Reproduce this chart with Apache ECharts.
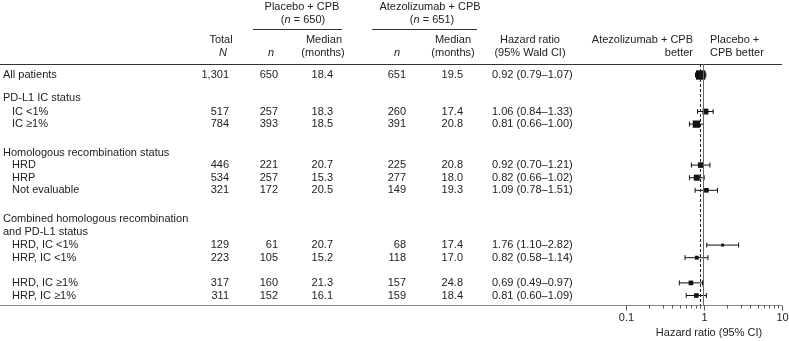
<!DOCTYPE html>
<html>
<head>
<meta charset="utf-8">
<script src="https://cdn.jsdelivr.net/npm/echarts@6/dist/echarts.min.js"></script>
<style>
  html, body { margin: 0; padding: 0; background: #fff; }
  #chart { width: 789px; height: 341px; }
</style>
</head>
<body>
<div id="chart"></div>
<script>
// data
const labels = ['All patients', 'PD-L1 IC status', 'IC <1%', 'IC \u22651%',
  'Homologous recombination status', 'HRD', 'HRP', 'Not evaluable',
  'Combined homologous recombination', 'and PD-L1 status',
  'HRD, IC <1%', 'HRP, IC <1%', 'HRD, IC \u22651%', 'HRP, IC \u22651%']
const subRow = [false, false, true, true, false, true, true, true, false, false, true, true, true, true]
const totalN = [1301, null, 517, 784, null, 446, 534, 321, null, null, 129, 223, 317, 311]
const placeboN = [650, null, 257, 393, null, 221, 257, 172, null, null, 61, 105, 160, 152]
const placeboMedian = ['18.4', null, '18.3', '18.5', null, '20.7', '15.3', '20.5', null, null, '20.7', '15.2', '21.3', '16.1']
const atezoN = [651, null, 260, 391, null, 225, 277, 149, null, null, 68, 118, 157, 159]
const atezoMedian = ['19.5', null, '17.4', '20.8', null, '20.8', '18.0', '19.3', null, null, '17.4', '17.0', '24.8', '18.4']
const hr = [0.92, null, 1.06, 0.81, null, 0.92, 0.82, 1.09, null, null, 1.76, 0.82, 0.69, 0.81]
const ciLow = [0.79, null, 0.84, 0.66, null, 0.70, 0.66, 0.78, null, null, 1.10, 0.58, 0.49, 0.60]
const ciHigh = [1.07, null, 1.33, 1.00, null, 1.21, 1.02, 1.51, null, null, 2.82, 1.14, 0.97, 1.09]
const overallHR = 0.92
const xTicks = [0.1, 1, 10]
const xTickLabels = ['0.1', '1', '10']
const minorTicks = [0.2, 0.3, 0.4, 0.5, 0.6, 0.7, 0.8, 0.9, 2, 3, 4, 5, 6, 7, 8, 9]

// layout: row positions in line units, line height in px
const rowPos = [0, 1.85, 2.9, 3.9, 6.2, 7.15, 8.15, 9.15, 11.4, 12.45, 13.5, 14.5, 16.5, 17.5]
const LH = 12.6
const ROW0 = 75
const PLOT_TOP = 64, PLOT_BOTTOM = 305
const FONT = '"Liberation Sans", Arial, sans-serif'
const INK = '#222'

const fmt = (v) => v.toLocaleString('en-US')
const hrText = (i) => `${hr[i].toFixed(2)} (${ciLow[i].toFixed(2)}\u2013${ciHigh[i].toFixed(2)})`

function txt(x, y, text, align) {
    return {
        type: 'text', x, y,
        style: { text, align, verticalAlign: 'middle', fill: INK, fontSize: 11, fontFamily: FONT,
            rich: { i: { fontStyle: 'italic', fontSize: 11, fontFamily: FONT, fill: INK } } }
    }
}

function tableRow(params, api) {
    const i = params.dataIndex
    const y = api.coord([0, rowPos[i]])[1]
    const at = (x) => api.coord([x, 0])[0]
    const kids = [txt(at(subRow[i] ? 12 : 3), y, labels[i], 'left')]
    if (hr[i] !== null) {
        kids.push(txt(at(229), y, fmt(totalN[i]), 'right'))
        kids.push(txt(at(278), y, fmt(placeboN[i]), 'right'))
        kids.push(txt(at(333), y, placeboMedian[i], 'right'))
        kids.push(txt(at(406), y, fmt(atezoN[i]), 'right'))
        kids.push(txt(at(463), y, atezoMedian[i], 'right'))
        kids.push(txt(at(492), y, hrText(i), 'left'))
    }
    return { type: 'group', children: kids }
}

function forestRow(params, api) {
    const i = params.dataIndex
    if (hr[i] === null) return null
    const y = api.coord([hr[i], rowPos[i]])[1]
    const xc = api.coord([hr[i], rowPos[i]])[0]
    const x0 = api.coord([ciLow[i], rowPos[i]])[0]
    const x1 = api.coord([ciHigh[i], rowPos[i]])[0]
    const s = 0.26 * Math.sqrt(totalN[i])
    const line = { stroke: '#111', lineWidth: 1 }
    return {
        type: 'group',
        children: [
            { type: 'line', shape: { x1: x0, y1: y, x2: x1, y2: y }, style: line },
            { type: 'line', shape: { x1: x0, y1: y - 2.5, x2: x0, y2: y + 2.5 }, style: line },
            { type: 'line', shape: { x1: x1, y1: y - 2.5, x2: x1, y2: y + 2.5 }, style: line },
            { type: 'rect', shape: { x: xc - s / 2, y: y - s / 2, width: s, height: s }, style: { fill: '#111' } }
        ]
    }
}

// tick marks (and labels for the decades) along the bottom of the forest panel
function tickMark(params, api) {
    const v = api.value(0)
    const major = api.value(1) === 1
    const x = Math.round(api.coord([v, 0])[0]) + 0.5
    const base = params.coordSys.y + params.coordSys.height + 0.5
    const kids = [{ type: 'line', shape: { x1: x, y1: base, x2: x, y2: base + (major ? 5 : 3) },
        style: { stroke: '#555', lineWidth: 1 } }]
    if (major) kids.push(txt(x, base + 12, xTickLabels[xTicks.indexOf(v)], 'center'))
    return { type: 'group', children: kids }
}

const chart = echarts.init(document.getElementById('chart'))

const headers = [
    txt(302, 7, 'Placebo + CPB', 'center'),
    txt(303, 20, '({i|n} = 650)', 'center'),
    txt(430, 7, 'Atezolizumab + CPB', 'center'),
    txt(432, 20, '({i|n} = 651)', 'center'),
    txt(221, 40, 'Total', 'center'),
    txt(223, 53, '{i|N}', 'center'),
    txt(271, 53, '{i|n}', 'center'),
    txt(324, 40, 'Median', 'center'),
    txt(323, 53, '(months)', 'center'),
    txt(397, 53, '{i|n}', 'center'),
    txt(453, 40, 'Median', 'center'),
    txt(453, 53, '(months)', 'center'),
    txt(530, 40, 'Hazard ratio', 'center'),
    txt(530, 53, '(95% Wald CI)', 'center'),
    txt(693, 40, 'Atezolizumab + CPB', 'right'),
    txt(693, 53, 'better', 'right'),
    txt(710, 40, 'Placebo +', 'left'),
    txt(710, 53, 'CPB better', 'left'),
    txt(709, 332.5, 'Hazard ratio (95% CI)', 'center'),
    { type: 'line', shape: { x1: 253, y1: 29.5, x2: 342, y2: 29.5 }, style: { stroke: '#333', lineWidth: 1 } },
    { type: 'line', shape: { x1: 372, y1: 29.5, x2: 477, y2: 29.5 }, style: { stroke: '#333', lineWidth: 1 } },
    { type: 'line', shape: { x1: 0, y1: 64.5, x2: 782, y2: 64.5 }, style: { stroke: '#333', lineWidth: 1 } },
    { type: 'line', shape: { x1: 0, y1: 305.5, x2: 782, y2: 305.5 }, style: { stroke: '#888', lineWidth: 1 } }
]

chart.setOption({
    animation: false,
    graphic: headers,
    grid: [
        { left: 0, top: 0, width: 789, height: 341 },
        { left: 625.5, width: 156, top: PLOT_TOP, height: PLOT_BOTTOM - PLOT_TOP }
    ],
    xAxis: [
        { gridIndex: 0, type: 'value', min: 0, max: 789, show: false },
        { gridIndex: 1, type: 'log', logBase: 10, min: 0.1, max: 10, show: false }
    ],
    yAxis: [
        { gridIndex: 0, type: 'value', inverse: true, min: -ROW0 / LH, max: (341 - ROW0) / LH, show: false },
        { gridIndex: 1, type: 'value', inverse: true, min: (PLOT_TOP - ROW0) / LH, max: (PLOT_BOTTOM - ROW0) / LH, show: false }
    ],
    series: [
        {
            type: 'custom', xAxisIndex: 0, yAxisIndex: 0, silent: true,
            data: labels.map((_, i) => [0, rowPos[i]]),
            renderItem: tableRow
        },
        {
            type: 'custom', xAxisIndex: 1, yAxisIndex: 1, silent: true, clip: false,
            data: xTicks.map((v) => [v, 1]).concat(minorTicks.map((v) => [v, 0])),
            renderItem: tickMark
        },
        {
            type: 'custom', xAxisIndex: 1, yAxisIndex: 1, silent: true,
            data: labels.map((_, i) => [hr[i] || 1, rowPos[i]]),
            renderItem: forestRow, z: 3,
            markLine: {
                silent: true, symbol: 'none', label: { show: false },
                data: [
                    { xAxis: 1, lineStyle: { color: '#666', width: 1, type: 'solid' } },
                    { xAxis: overallHR, lineStyle: { color: '#222', width: 1, type: [3, 2] } }
                ]
            }
        }
    ]
})
</script>
</body>
</html>
